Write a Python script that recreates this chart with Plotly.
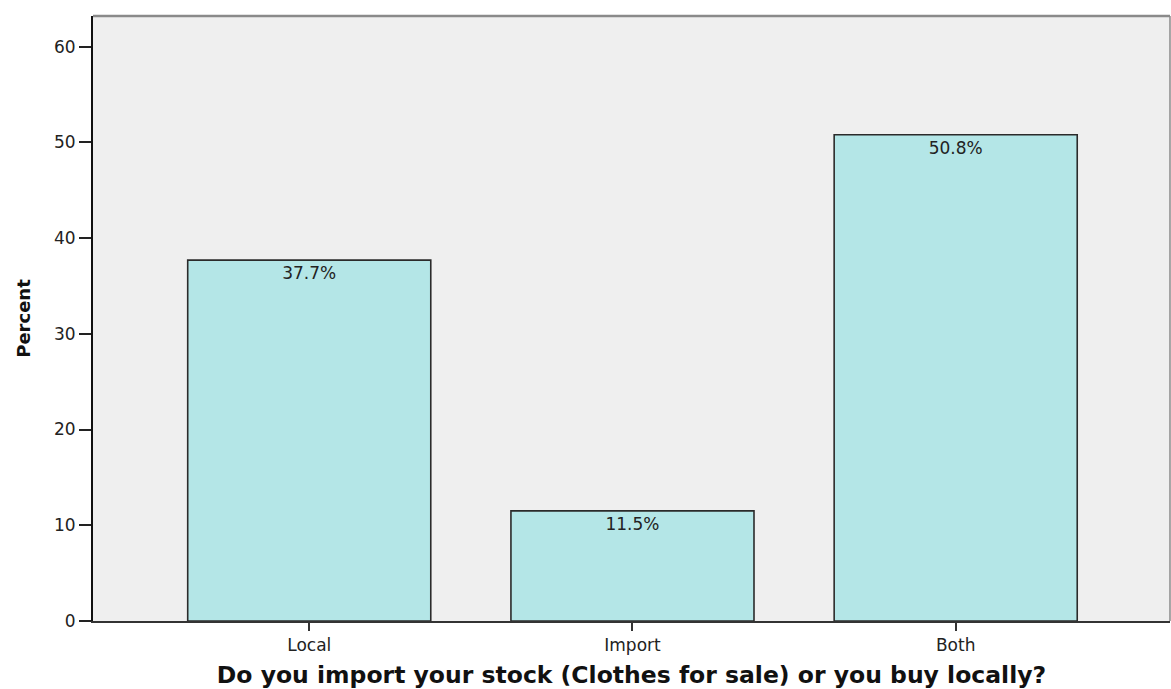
import plotly.graph_objects as go

categories = ["Local", "Import", "Both"]
percents = [37.7, 11.5, 50.8]
y_ticks = [0, 10, 20, 30, 40, 50, 60]

fig = go.Figure()
fig.add_trace(go.Bar(
    x=categories,
    y=percents,
    width=0.752,
    marker=dict(color="#b4e6e7", line=dict(color="#2b2b2b", width=1.6)),
    texttemplate="%{y:.1f}%",
    textposition="inside",
    insidetextanchor="end",
    textangle=0,
    textfont=dict(family="DejaVu Sans", size=17, color="#222222"),
    constraintext="none",
    hoverinfo="skip",
))

fig.update_layout(
    width=1171, height=689,
    margin=dict(l=93, r=1, t=16, b=68),
    paper_bgcolor="white",
    plot_bgcolor="#efefef",
    showlegend=False,
    xaxis=dict(
        range=[-0.669, 2.663],
        showgrid=False, zeroline=False,
        showline=True, linecolor="#333333", linewidth=2,
        ticks="outside", ticklen=8, tickwidth=2, tickcolor="#333333",
        tickfont=dict(family="DejaVu Sans", size=17, color="#222222"),
        title=dict(text="Do you import your stock (Clothes for sale) or you buy locally?",
                   font=dict(family="DejaVu Sans", size=23.5, color="#111111", weight="bold"),
                   standoff=13),
    ),
    yaxis=dict(
        range=[0, 63.2],
        tickvals=y_ticks,
        showgrid=False, zeroline=False,
        showline=True, linecolor="#111111", linewidth=2,
        ticks="outside", ticklen=12, tickwidth=2, tickcolor="#222222",
        tickfont=dict(family="DejaVu Sans", size=17, color="#222222"),
        title=dict(text="Percent",
                   font=dict(family="DejaVu Sans", size=18, color="#111111", weight="bold"),
                   standoff=19),
    ),
    shapes=[
        dict(type="line", xref="paper", yref="paper", x0=0, x1=1, y0=1, y1=1,
             line=dict(color="#8a8a8a", width=2.5)),
        dict(type="line", xref="paper", yref="paper", x0=1, x1=1, y0=0, y1=1,
             line=dict(color="#8a8a8a", width=1.5)),
    ],
)

fig.write_html("out.html")
